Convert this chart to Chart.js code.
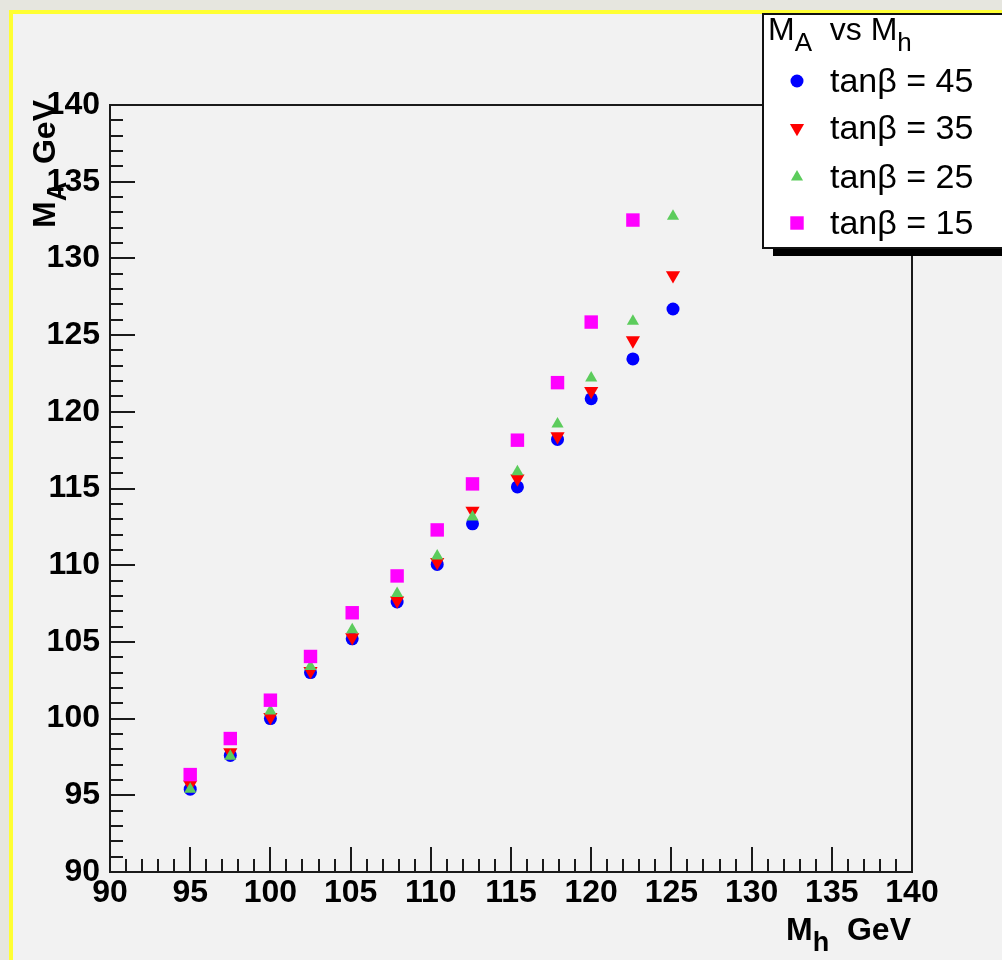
<!DOCTYPE html>
<html>
<head>
<meta charset="utf-8">
<script src="https://cdn.jsdelivr.net/npm/chart.js"></script>
<style>
  html, body { margin: 0; padding: 0; background: #e6e6df; }
  #wrap { width: 1002px; height: 960px; }
</style>
</head>
<body>
<div id="wrap"><canvas id="myChart" width="1002" height="960"></canvas></div>
<script>
// M_h (GeV), same for every tan(beta) series
const massH = [95.0, 97.5, 100.0, 102.5, 105.1, 107.9, 110.4, 112.6, 115.4, 117.9, 120.0, 122.6, 125.1];
// M_A (GeV) for each tan(beta)
const tanb45 = [95.4, 97.6, 100.0, 103.0, 105.2, 107.6, 110.05, 112.7, 115.1, 118.2, 120.85, 123.45, 126.7];
const tanb35 = [95.7, 97.8, 100.1, 103.1, 105.3, 107.7, 110.2, 113.55, 115.65, 118.4, 121.35, 124.65, 128.9];
const tanb25 = [95.4, 97.55, 100.5, 103.4, 105.8, 108.15, 110.6, 113.15, 116.1, 119.2, 122.2, 125.9, 132.75];
const tanb15 = [96.35, 98.7, 101.2, 104.05, 106.9, 109.3, 112.3, 115.3, 118.15, 121.9, 125.85, 132.5];
const seriesLabels = ['tanβ = 45', 'tanβ = 35', 'tanβ = 25', 'tanβ = 15'];

// axis range, same on both axes
const axisMin = 90;
const axisMax = 140;
const majorStep = 5;
const minorStep = 1;

const FONT = '"Liberation Sans", Arial, Helvetica, sans-serif';

function toPoints(vals) {
    return vals.map(function (v, i) { return { x: massH[i], y: v }; });
}

const markerStyles = [
    { color: '#0000ff', pointStyle: 'circle', radius: 6.5, rotation: 0 },
    { color: '#ff0000', pointStyle: 'triangle', radius: 8.2, rotation: 180 },
    { color: '#5ccc5c', pointStyle: 'triangle', radius: 7, rotation: 0 },
    { color: '#ff00ff', pointStyle: 'rect', radius: 9.5, rotation: 0 }
];
const seriesValues = [tanb45, tanb35, tanb25, tanb15];

let datasets = [];
for (let i = 0; i < seriesValues.length; i++) {
    const m = markerStyles[i];
    datasets.push({
        label: seriesLabels[i],
        data: toPoints(seriesValues[i]),
        showLine: false,
        pointStyle: m.pointStyle,
        pointRadius: m.radius,
        pointHoverRadius: m.radius,
        pointRotation: m.rotation,
        pointBorderWidth: 0,
        backgroundColor: m.color,
        borderColor: m.color,
        order: seriesValues.length - i   // later series drawn on top
    });
}

// text with subscripts: parts = [[text, isSub], ...]
function drawParts(ctx, parts, x, y, size, subSize, subShift, weight, align) {
    let total = 0;
    parts.forEach(function (p) {
        ctx.font = weight + ' ' + (p[1] ? subSize : size) + 'px ' + FONT;
        total += ctx.measureText(p[0]).width;
    });
    let cx = align === 'right' ? x - total : x;
    ctx.textAlign = 'left';
    ctx.textBaseline = 'alphabetic';
    parts.forEach(function (p) {
        ctx.font = weight + ' ' + (p[1] ? subSize : size) + 'px ' + FONT;
        ctx.fillText(p[0], cx, p[1] ? y + subShift : y);
        cx += ctx.measureText(p[0]).width;
    });
}

function marker(ctx, m, x, y) {
    ctx.fillStyle = m.color;
    if (Chart.helpers && Chart.helpers.drawPoint) {
        Chart.helpers.drawPoint(ctx, { pointStyle: m.pointStyle, rotation: m.rotation, radius: m.radius, borderWidth: 0 }, x, y);
        return;
    }
    ctx.beginPath();
    ctx.arc(x, y, m.radius, 0, Math.PI * 2);
    ctx.fill();
}

const rootPad = {
    id: 'rootPad',
    beforeDraw: function (chart) {
        const ctx = chart.ctx;
        ctx.save();
        ctx.fillStyle = '#e6e6df';
        ctx.fillRect(0, 0, chart.width, chart.height);
        ctx.fillStyle = '#ffff33';
        ctx.fillRect(9, 10, chart.width, chart.height);
        ctx.fillStyle = '#f2f2f2';
        ctx.fillRect(13, 14, chart.width, chart.height);
        ctx.restore();
    },
    beforeDatasetsDraw: function (chart) {
        const ctx = chart.ctx;
        const a = chart.chartArea;
        const xs = chart.scales.x;
        const ys = chart.scales.y;
        ctx.save();
        ctx.strokeStyle = '#1a1a1a';
        ctx.lineWidth = 2;
        ctx.beginPath();
        for (let v = axisMin + minorStep; v < axisMax; v += minorStep) {
            const len = (v - axisMin) % majorStep === 0 ? 25 : 13;
            const px = Math.round(xs.getPixelForValue(v));
            ctx.moveTo(px, a.bottom);
            ctx.lineTo(px, a.bottom - len);
            const py = Math.round(ys.getPixelForValue(v));
            ctx.moveTo(a.left, py);
            ctx.lineTo(a.left + len, py);
        }
        ctx.stroke();
        ctx.strokeRect(a.left, a.top, a.right - a.left, a.bottom - a.top);

        // axis titles
        ctx.fillStyle = '#000';
        drawParts(ctx, [['M', false], ['h', true], ['  GeV', false]], a.right - 1, 940, 32, 27, 11, 'bold', 'right');
        ctx.translate(55, a.top - 5);
        ctx.rotate(-Math.PI / 2);
        drawParts(ctx, [['M', false], ['A', true], ['  GeV', false]], 0, 0, 32, 27, 11, 'bold', 'right');
        ctx.restore();
    },
    afterDraw: function (chart) {
        const ctx = chart.ctx;
        ctx.save();
        // legend shadow + box
        ctx.fillStyle = '#000';
        ctx.fillRect(773, 30, 300, 226);
        ctx.fillStyle = '#fff';
        ctx.fillRect(762, 14, 300, 234);
        ctx.strokeStyle = '#111';
        ctx.lineWidth = 2;
        ctx.strokeRect(763, 14, 300, 234);
        ctx.fillStyle = '#000';
        drawParts(ctx, [['M', false], ['A', true], ['  vs M', false], ['h', true]], 768, 40, 32, 26, 11, 'normal', 'left');
        const rowsY = [81, 128, 177, 223];
        for (let i = 0; i < seriesLabels.length; i++) {
            marker(ctx, markerStyles[i], 797, rowsY[i]);
            ctx.fillStyle = '#000';
            ctx.font = '34px ' + FONT;
            ctx.textAlign = 'left';
            ctx.textBaseline = 'alphabetic';
            ctx.fillText(seriesLabels[i], 830, rowsY[i] + 11);
        }
        ctx.restore();
    }
};

const tickFont = { family: FONT, size: 32, weight: 'bold' };

new Chart(document.getElementById('myChart'), {
    type: 'scatter',
    data: { datasets: datasets },
    options: {
        responsive: false,
        animation: false,
        devicePixelRatio: 1,
        layout: { padding: { left: 0, top: 105, right: 90, bottom: 0 } },
        plugins: {
            legend: { display: false },
            tooltip: { enabled: false }
        },
        scales: {
            x: {
                type: 'linear',
                position: 'bottom',
                min: axisMin,
                max: axisMax,
                grid: { display: false, drawTicks: false },
                border: { display: false },
                ticks: { stepSize: majorStep, font: tickFont, color: '#000', padding: 2, maxRotation: 0, autoSkip: false },
                afterFit: function (s) { s.height = 88; }
            },
            y: {
                type: 'linear',
                position: 'left',
                min: axisMin,
                max: axisMax,
                grid: { display: false, drawTicks: false },
                border: { display: false },
                ticks: { stepSize: majorStep, font: tickFont, color: '#000', padding: 10, autoSkip: false },
                afterFit: function (s) { s.width = 110; }
            }
        }
    },
    plugins: [rootPad]
});
</script>
</body>
</html>
